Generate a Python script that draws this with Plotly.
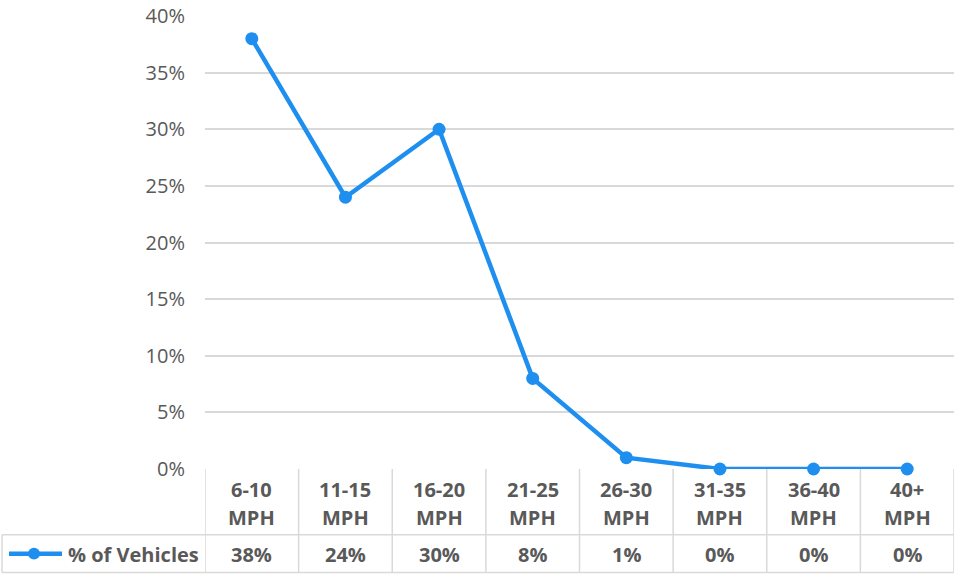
import plotly.graph_objects as go

categories = ["6-10 MPH", "11-15 MPH", "16-20 MPH", "21-25 MPH", "26-30 MPH", "31-35 MPH", "36-40 MPH", "40+ MPH"]
values = [38, 24, 30, 8, 1, 0, 0, 0]
series_name = "% of Vehicles"
y_ticks = [0, 5, 10, 15, 20, 25, 30, 35, 40]

W, H = 956, 574
L, R, T, B = 205, 954, 14, 469
LINE = "#1F8FEF"
TXT = "#595959"
GRID = "#D9D9D9"
FONT = "Open Sans"


def px(x):
    return (x - L) / (R - L)


def py(y):
    return (B - y) / (B - T)


n = len(categories)
xs = list(range(n))
fig = go.Figure()
fig.add_trace(go.Scatter(
    x=xs, y=[v / 100 for v in values], mode="lines+markers",
    line=dict(color=LINE, width=4.5), marker=dict(color=LINE, size=13),
    name=series_name, showlegend=False, cliponaxis=False,
))

shapes = []
ann = []
# table vertical lines
for i in range(n + 1):
    shapes.append(dict(type="line", xref="x", yref="paper", x0=i - 0.5, x1=i - 0.5,
                       y0=py(469), y1=py(573), line=dict(color=GRID, width=1.5)))
# horizontal lines
shapes.append(dict(type="line", xref="paper", yref="paper", x0=px(2), x1=1,
                   y0=py(535), y1=py(535), line=dict(color=GRID, width=1.5)))
shapes.append(dict(type="line", xref="paper", yref="paper", x0=px(2), x1=1,
                   y0=py(573), y1=py(573), line=dict(color=GRID, width=1.5)))
shapes.append(dict(type="line", xref="paper", yref="paper", x0=px(2), x1=px(2),
                   y0=py(535), y1=py(573), line=dict(color=GRID, width=1.5)))
# legend glyph
shapes.append(dict(type="line", xref="paper", yref="paper", x0=px(9), x1=px(62),
                   y0=py(554), y1=py(554), line=dict(color=LINE, width=4.5)))
shapes.append(dict(type="circle", xref="paper", yref="paper", x0=px(28), x1=px(40),
                   y0=py(548), y1=py(560), fillcolor=LINE, line=dict(color=LINE, width=0)))

BOLD = dict(family=FONT, size=20, color=TXT, weight="bold")
for i, c in enumerate(categories):
    top, bot = c.split(" ")
    ann.append(dict(x=i, xref="x", y=py(490), yref="paper", text=top,
                    showarrow=False, font=BOLD, yanchor="middle"))
    ann.append(dict(x=i, xref="x", y=py(518), yref="paper", text=bot,
                    showarrow=False, font=BOLD, yanchor="middle"))
    ann.append(dict(x=i, xref="x", y=py(555), yref="paper", text=f"{values[i]}%",
                    showarrow=False, font=BOLD, yanchor="middle"))
ann.append(dict(x=px(66), xref="paper", y=py(555), yref="paper", text=series_name,
                xanchor="left", yanchor="middle", showarrow=False, font=BOLD))

fig.update_layout(
    width=W, height=H, margin=dict(l=L, r=W - R, t=T, b=H - B),
    paper_bgcolor="white", plot_bgcolor="white",
    shapes=shapes, annotations=ann,
    xaxis=dict(range=[-0.5, n - 0.5], showticklabels=False, showgrid=False, zeroline=False,
               showline=False, ticks=""),
    yaxis=dict(range=[0, 0.4], tickvals=[t / 100 for t in y_ticks],
               ticktext=[f"{t}%" for t in y_ticks], showgrid=True, gridcolor=GRID, gridwidth=1.5,
               zeroline=False, showline=False, ticklabelstandoff=19,
               tickfont=dict(family=FONT, size=20, color=TXT)),
)
fig.write_html("out.html", config={"displayModeBar": False},
               post_script="document.body.style.margin='0';")
